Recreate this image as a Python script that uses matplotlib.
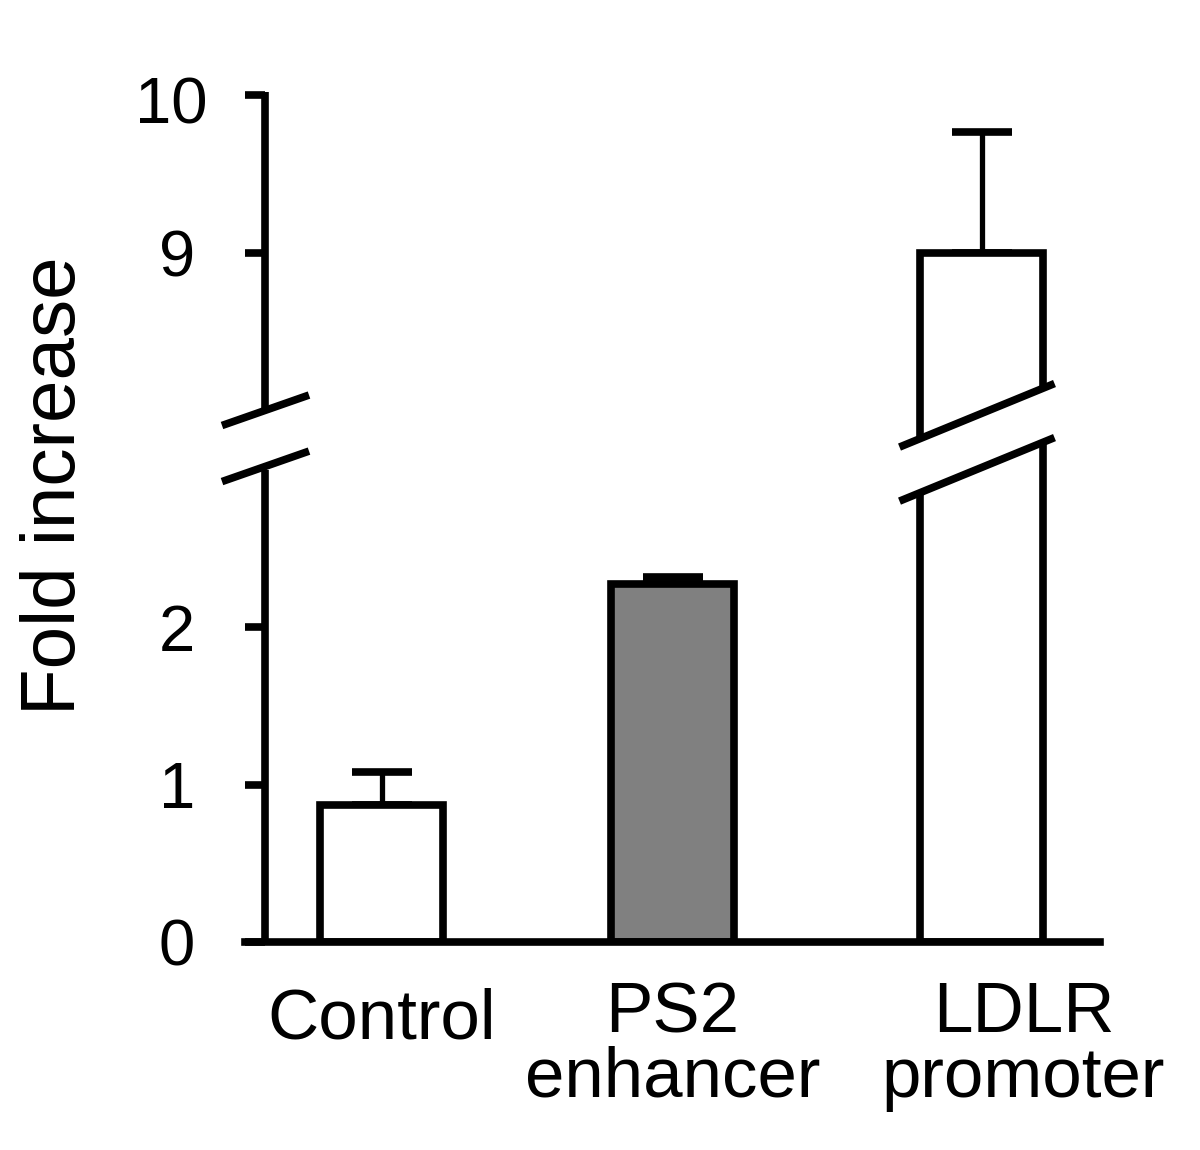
import numpy as np
import matplotlib
matplotlib.use('Agg')
import matplotlib.pyplot as plt
import matplotlib.transforms as mtransforms
from matplotlib.lines import Line2D
from matplotlib.patches import Polygon

plt.rcParams['font.family'] = ['Liberation Sans', 'DejaVu Sans']

# data
categories = ['Control', 'PS2\nenhancer', 'LDLR\npromoter']
fold = [0.87, 2.27, 9.0]
err_up = [0.21, 0.05, 0.77]
bar_colors = ['white', '#808080', 'white']
y_ticks = [0, 1, 2, 9, 10]

# broken y axis: 0-3 and 8-10, with a small gap between
LOW_TOP, HIGH_BOT, GAP = 3.0, 8.0, 0.375
Y_MAX = 10.022


def fwd(y):
    y = np.asarray(y, dtype=float)
    mid = LOW_TOP + (y - LOW_TOP) * GAP / (HIGH_BOT - LOW_TOP)
    return np.where(y <= LOW_TOP, y,
                    np.where(y >= HIGH_BOT, y - HIGH_BOT + LOW_TOP + GAP, mid))


def inv(v):
    v = np.asarray(v, dtype=float)
    mid = LOW_TOP + (v - LOW_TOP) * (HIGH_BOT - LOW_TOP) / GAP
    return np.where(v <= LOW_TOP, v,
                    np.where(v >= LOW_TOP + GAP, v - LOW_TOP - GAP + HIGH_BOT, mid))


LW = 5.5
fig = plt.figure(figsize=(12, 11.5), dpi=100)
ax = fig.add_axes([245 / 1200, 208 / 1150, 855 / 1200, 850 / 1150])

xpos = np.array([0, 0.97, 2.0])
bar_w = 0.41

ax.bar(xpos, fold, width=bar_w, color=bar_colors, edgecolor='black',
       linewidth=LW, zorder=2)
ax.errorbar(xpos, fold, yerr=[np.zeros(len(fold)), err_up], fmt='none',
            ecolor='black', elinewidth=3.8, capsize=21.6, capthick=LW, zorder=1)

ax.set_yscale('function', functions=(fwd, inv))
ax.set_ylim(0, Y_MAX)
ax.set_xlim(-0.455, 2.395)

for s in ('top', 'right', 'left'):
    ax.spines[s].set_visible(False)
ax.spines['bottom'].set_linewidth(LW)

ax.set_xticks([])
ax.set_yticks(y_ticks)
ax.set_yticklabels([str(t) for t in y_ticks])
ax.tick_params(axis='y', direction='in', length=14.4, width=LW, pad=36,
               labelsize=47)
# the "10" sits a little further right in the original
lbl10 = ax.get_yticklabels()[-1]
lbl10.set_transform(lbl10.get_transform() +
                    mtransforms.ScaledTranslation(0.12, -0.05, fig.dpi_scale_trans))

# y axis drawn in two pieces
sx = 20 / 855
ytr = ax.get_yaxis_transform()
ax.plot([sx, sx], [0, LOW_TOP], transform=ytr, color='black', lw=LW,
        clip_on=False, solid_capstyle='butt')
ax.plot([sx, sx], [HIGH_BOT, Y_MAX], transform=ytr, color='black', lw=LW,
        clip_on=False, solid_capstyle='butt')


def slash_pts(cx, cy, left, right, slope):
    pts = np.array([[cx - left, cy - slope * left], [cx + right, cy + slope * right]])
    return fig.transFigure.inverted().transform(pts)


def draw_slash(p):
    fig.add_artist(Line2D(p[:, 0], p[:, 1], transform=fig.transFigure,
                          color='black', lw=LW, solid_capstyle='butt', zorder=5))


cy_hi = ax.transData.transform((0, HIGH_BOT))[1]
cy_lo = ax.transData.transform((0, LOW_TOP))[1]

# break marks on the axis
cx_axis = ax.transAxes.transform((sx, 0))[0]
draw_slash(slash_pts(cx_axis, cy_hi, 43, 44, 0.35))
draw_slash(slash_pts(cx_axis, cy_lo + 3, 43, 44, 0.35))

# break marks across the tall bar
cx_bar = ax.transData.transform((xpos[2], 0))[0]
up = slash_pts(cx_bar, cy_hi - 3, 82, 73, 0.41)
lo = slash_pts(cx_bar, cy_lo + 2, 82, 73, 0.41)
fig.add_artist(Polygon([up[0], up[1], lo[1], lo[0]], closed=True,
                       transform=fig.transFigure, facecolor='white',
                       edgecolor='none', zorder=4))
draw_slash(up)
draw_slash(lo)

# category labels
label_dx = [0, 0, 0.14]
label_dy = [-0.054, -0.046, -0.046]
xtr = ax.get_xaxis_transform()
for x, dx, dy, lab in zip(xpos, label_dx, label_dy, categories):
    ax.text(x + dx, dy, lab, transform=xtr, ha='center', va='top',
            fontsize=51, linespacing=0.97, clip_on=False)

fig.text(56 / 1200, 1 - 486 / 1150, 'Fold increase', rotation=90,
         ha='center', va='center', fontsize=55)

fig.savefig('out.png', dpi=100)
